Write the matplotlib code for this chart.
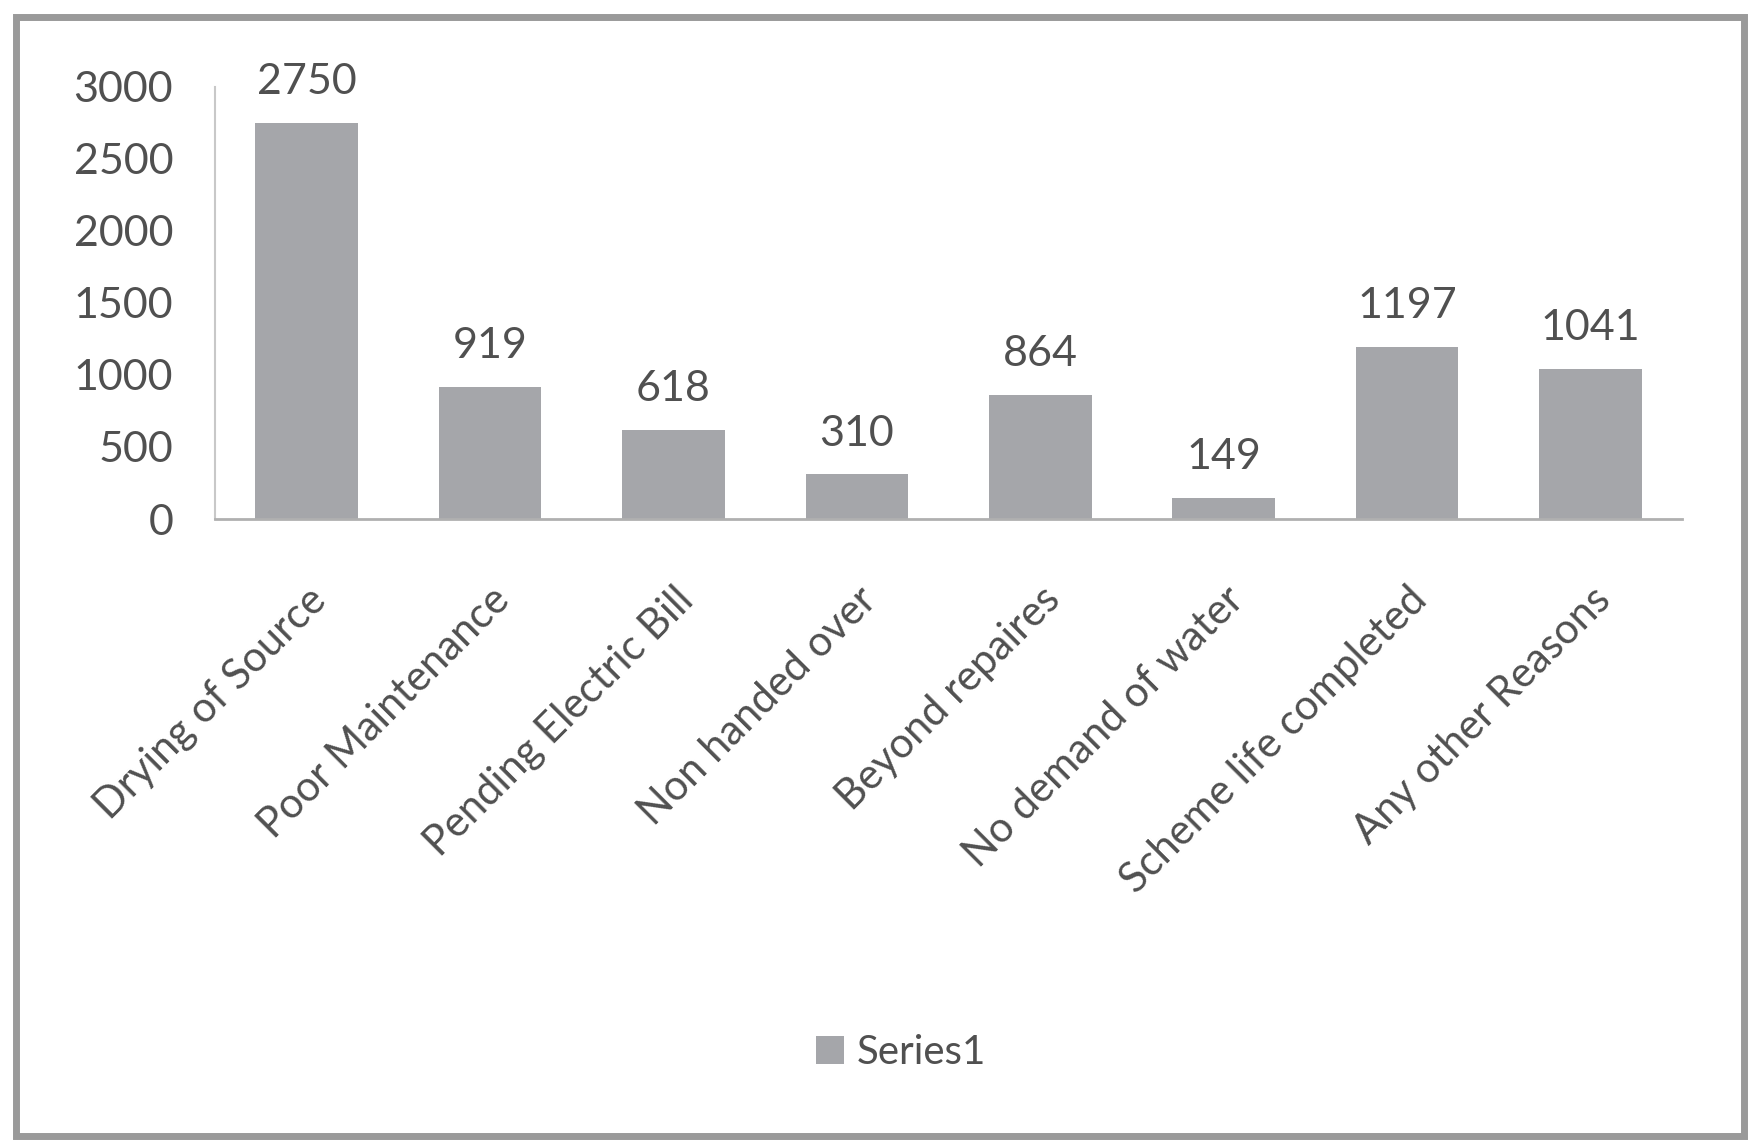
import matplotlib
matplotlib.use("Agg")
import matplotlib.pyplot as plt
from matplotlib.patches import Rectangle

plt.rcParams["font.family"] = ["Lato", "DejaVu Sans"]

categories = ["Drying of Source", "Poor Maintenance", "Pending Electric Bill",
              "Non handed over", "Beyond repaires", "No demand of water",
              "Scheme life completed", "Any other Reasons"]
values = [2750, 919, 618, 310, 864, 149, 1197, 1041]
yticks = [0, 500, 1000, 1500, 2000, 2500, 3000]

bar_color = "#a5a6aa"
text_color = "#505050"

fig = plt.figure(figsize=(17.56, 11.42), dpi=100)
ax = fig.add_axes([0.1224, 0.5455, 0.8356, 0.3785])

x = range(len(categories))
bars = ax.bar(x, values, width=0.56, color=bar_color, label="Series1")
for xi, v in zip(x, values):
    ax.text(xi, v + 150, str(v), ha="center", va="bottom",
            fontsize=31, color=text_color)

ax.set_xlim(-0.5, len(categories) - 0.5)
ax.set_ylim(0, 3000)
ax.set_yticks(yticks)
ax.set_yticklabels([str(t) for t in yticks], fontsize=31, color=text_color)
ax.set_xticks(list(x))
ax.set_xticklabels(categories, rotation=45, ha="right", rotation_mode="anchor",
                   fontsize=30, color=text_color)
ax.tick_params(axis="y", length=0, pad=30)
ax.tick_params(axis="x", length=0, pad=44)

for side in ["top", "right"]:
    ax.spines[side].set_visible(False)
ax.spines["left"].set_color("#c8c8c8")
ax.spines["bottom"].set_color("#b0b0b0")
ax.spines["left"].set_linewidth(1.5)
ax.spines["bottom"].set_linewidth(2)

fig.legend(handles=[bars], labels=["Series1"], loc="center",
           bbox_to_anchor=(0.513, 0.078), frameon=False, fontsize=29,
           handlelength=0.7, handleheight=0.7, handletextpad=0.3,
           labelcolor=text_color)

# outer chart border
fig.patches.append(Rectangle((0.009, 0.005), 0.984, 0.98, transform=fig.transFigure,
                             fill=False, edgecolor="#9a9a9a", linewidth=5))

fig.savefig("out.png", dpi=100)
